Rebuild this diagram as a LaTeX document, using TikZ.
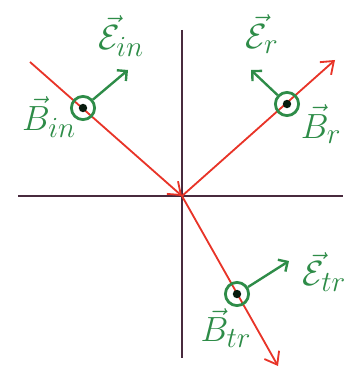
\documentclass[tikz,border=0pt]{standalone}
\usepackage{amsfonts,amssymb,amsmath}
\usepackage{xcolor}
\usepackage{tikz}
\usetikzlibrary{arrows.meta}
\definecolor{redray}{RGB}{232,52,40}
\definecolor{greenfld}{RGB}{46,140,72}
\definecolor{axiscol}{RGB}{72,42,62}

\begin{document}
\begin{tikzpicture}[x=0.025cm,y=-0.025cm,
raypath/.style={redray,line width=1.3pt,-{Straight Barb[length=8pt,width=12pt]}},
efield/.style={greenfld,line width=1.7pt,-{Straight Barb[length=5pt,width=10pt]}},
bcirc/.style={shape=circle,draw=greenfld,line width=2pt,minimum size=0.58cm,inner sep=0pt,
  path picture={\fill[black!80!greenfld](path picture bounding box.center)circle(3pt);}},
lab/.style={text=greenfld,font=\Huge}]
\useasboundingbox(0,0)rectangle(343,373);
% axes
\coordinate(xL)at(18,196);\coordinate(xR)at(343,196);
\coordinate(yT)at(182,30);\coordinate(yB)at(182,358);
\draw[axiscol,line width=1.9pt](xL)--(xR)(yT)--(yB);
% rays
\coordinate(O)at(182,196);
\coordinate(inS)at(30,62);
\coordinate(rE)at(335,60);
\coordinate(tE)at(278,366);
\draw[raypath](inS)--(O);
\draw[raypath](O)--(rE);
\draw[raypath](O)--(tE);
% fields
\node[bcirc](Bin)at(83,108){};
\node[bcirc](Br)at(287,104){};
\node[bcirc](Btr)at(237,294){};
\coordinate(Ein)at(128,70);
\coordinate(Er)at(251,70);
\coordinate(Etr)at(289,261);
\draw[efield](Bin)--(Ein);
\draw[efield](Br)--(Er);
\draw[efield](Btr)--(Etr);
\node[lab](EinL)at(121,36){$\vec{\mathcal{E}}_{in}$};
\node[lab](BinL)at(49,117){$\vec{B}_{in}$};
\node[lab](ErL)at(262,34){$\vec{\mathcal{E}}_{r}$};
\node[lab](BrL)at(321,124){$\vec{B}_{r}$};
\node[lab,anchor=west](EtrL)at(298,272){$\vec{\mathcal{E}}_{tr}$};
\node[lab](BtrL)at(226,328){$\vec{B}_{tr}$};
\end{tikzpicture}
\end{document}
